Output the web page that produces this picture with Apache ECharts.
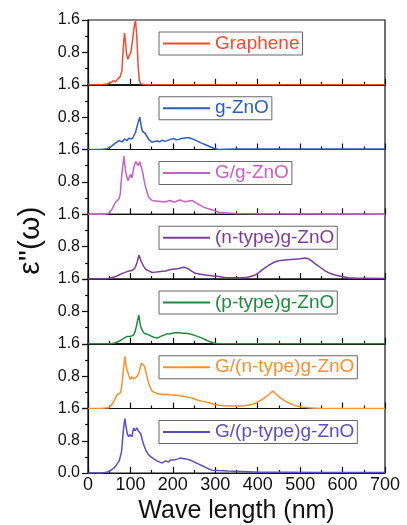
<!DOCTYPE html>
<html>
<head>
<meta charset="utf-8">
<script src="https://cdn.jsdelivr.net/npm/echarts@6/dist/echarts.min.js"></script>
<style>
html,body{margin:0;padding:0;background:#fff;}
#c{width:407px;height:525px;}
</style>
</head>
<body>
<div id="c"></div>
<script>
var seriesNames = ['Graphene', 'g-ZnO', 'G/g-ZnO', '(n-type)g-ZnO', '(p-type)g-ZnO', 'G/(n-type)g-ZnO', 'G/(p-type)g-ZnO'];
var seriesColors = ['#ef4a2e', '#2b5dbf', '#c462c2', '#7b3c9c', '#1f8a3e', '#f7902e', '#5a4ec6'];
var yTicks = [0, 0.8, 1.6];
var xTicks = [0, 100, 200, 300, 400, 500, 600, 700];

var graphene = [[0,0],[30,0],[45,0.02],[55,0.06],[60,0.1],[65,0.07],[70,0.14],[73,0.1],[76,0.2],[80,0.35],[83,0.9],[86,1.28],[88,1.1],[91,0.75],[94,0.63],[97,0.72],[101,0.8],[105,1.1],[109,1.45],[112,1.58],[115,1.2],[118,0.5],[121,0.1],[125,0.02],[135,0],[700,0]];
var gZnO = [[0,0],[30,0],[45,0.02],[53,0.06],[60,0.12],[66,0.17],[70,0.14],[73,0.22],[77,0.25],[81,0.19],[86,0.26],[92,0.22],[96,0.28],[100,0.3],[104,0.26],[108,0.34],[112,0.42],[116,0.59],[122,0.8],[125,0.6],[128,0.46],[132,0.42],[136,0.38],[143,0.25],[151,0.18],[157,0.2],[163,0.21],[169,0.19],[175,0.23],[181,0.2],[187,0.22],[194,0.25],[198,0.23],[202,0.27],[208,0.24],[214,0.25],[220,0.27],[226,0.28],[232,0.29],[238,0.29],[249,0.25],[265,0.17],[281,0.1],[296,0.03],[308,0.0],[350,0.01],[700,0.01]];
var ggZnO = [[0,0],[40,0],[49,0.02],[57,0.13],[61,0.22],[65,0.3],[69,0.27],[73,0.38],[76,0.5],[79,0.9],[82,1.2],[85,1.44],[87,1.2],[89,1.03],[91,0.95],[94,0.83],[97,0.9],[100,0.99],[104,0.9],[107,1.1],[110,1.24],[113,1.3],[116,1.34],[118,1.2],[120,1.24],[122,1.3],[124,1.28],[126,1.15],[129,1.03],[132,0.85],[136,0.66],[143,0.42],[151,0.34],[159,0.33],[167,0.32],[175,0.31],[183,0.3],[188,0.33],[194,0.34],[200,0.31],[206,0.3],[212,0.34],[218,0.35],[224,0.32],[230,0.31],[238,0.33],[245,0.34],[257,0.27],[273,0.17],[292,0.11],[308,0.05],[347,0.02],[402,0.01],[700,0.0]];
var nZnO = [[0,0],[42,0],[55,0.03],[65,0.06],[73,0.1],[81,0.14],[89,0.17],[97,0.2],[103,0.21],[108,0.24],[112,0.3],[116,0.42],[120,0.59],[123,0.55],[126,0.42],[131,0.32],[136,0.24],[143,0.2],[151,0.16],[159,0.17],[167,0.18],[175,0.19],[183,0.2],[190,0.22],[198,0.24],[206,0.25],[214,0.26],[220,0.28],[226,0.29],[232,0.27],[238,0.24],[245,0.19],[253,0.14],[265,0.12],[277,0.1],[292,0.08],[308,0.06],[323,0.04],[339,0.03],[355,0.03],[371,0.03],[383,0.06],[394,0.1],[402,0.15],[410,0.22],[418,0.28],[426,0.34],[436,0.4],[445,0.44],[455,0.46],[465,0.47],[477,0.48],[488,0.49],[500,0.5],[512,0.52],[520,0.5],[528,0.44],[535,0.38],[547,0.29],[559,0.2],[570,0.14],[582,0.1],[598,0.06],[614,0.03],[633,0.02],[653,0.02],[700,0.01]];
var pZnO = [[0,0],[53,0],[63,0.02],[73,0.06],[79,0.1],[85,0.14],[92,0.18],[100,0.18],[104,0.2],[108,0.22],[111,0.3],[114,0.43],[117,0.58],[120,0.71],[122,0.55],[124,0.43],[128,0.33],[132,0.26],[138,0.24],[143,0.22],[149,0.19],[155,0.16],[163,0.14],[169,0.17],[175,0.2],[181,0.22],[187,0.25],[192,0.24],[198,0.26],[204,0.27],[210,0.28],[216,0.27],[222,0.26],[230,0.26],[238,0.25],[245,0.23],[253,0.2],[261,0.17],[269,0.14],[277,0.1],[285,0.06],[296,0.02],[305,0],[700,0]];
var gnZnO = [[0,0],[26,0],[40,0.01],[49,0.02],[55,0.08],[61,0.18],[65,0.27],[69,0.34],[73,0.36],[77,0.39],[80,0.6],[82,0.8],[85,1.1],[87,1.29],[89,1.1],[92,0.96],[96,0.82],[100,0.72],[103,0.78],[106,0.8],[109,0.73],[112,0.75],[116,0.8],[120,0.88],[123,1.0],[126,1.12],[130,1.16],[133,1.05],[136,0.92],[140,0.75],[143,0.63],[147,0.52],[151,0.43],[157,0.4],[163,0.37],[171,0.35],[179,0.34],[187,0.35],[194,0.34],[202,0.33],[210,0.33],[218,0.31],[226,0.3],[235,0.28],[245,0.26],[253,0.23],[261,0.2],[273,0.17],[285,0.14],[296,0.11],[308,0.08],[320,0.07],[332,0.06],[347,0.06],[363,0.06],[375,0.08],[387,0.1],[398,0.15],[410,0.22],[418,0.28],[426,0.34],[431,0.39],[436,0.43],[442,0.37],[449,0.3],[457,0.24],[465,0.18],[477,0.12],[488,0.07],[504,0.04],[520,0.02],[543,0],[700,0]];
var gpZnO = [[0,0],[30,0],[40,0.01],[49,0.04],[55,0.08],[61,0.12],[67,0.2],[73,0.29],[76,0.4],[79,0.53],[81,0.75],[83,1.02],[85,1.2],[87,1.35],[89,1.2],[91,1.07],[93,0.95],[96,0.9],[98,0.95],[100,0.94],[102,0.92],[104,0.9],[106,1.05],[108,1.12],[110,1.05],[112,1.02],[114,1.08],[116,1.12],[118,1.05],[120,1.07],[122,1.03],[124,0.98],[126,0.9],[129,0.78],[132,0.68],[136,0.57],[141,0.48],[147,0.41],[155,0.35],[163,0.3],[169,0.27],[175,0.25],[179,0.28],[183,0.3],[187,0.26],[190,0.27],[194,0.32],[198,0.35],[202,0.32],[206,0.33],[212,0.35],[218,0.37],[224,0.36],[230,0.35],[238,0.33],[245,0.3],[253,0.26],[261,0.22],[269,0.18],[277,0.14],[285,0.1],[292,0.07],[308,0.06],[330,0.05],[363,0.04],[402,0.02],[465,0.02],[550,0.01],[700,0.01]];

var allData = [graphene, gZnO, ggZnO, nZnO, pZnO, gnZnO, gpZnO];

(function () {
  var plotLeft = 88, plotWidth = 297, plotTop = 20, panelH = 64.75;
  var font = 'Liberation Sans, Arial, sans-serif';
  var ink = '#111';
  var grids = [], xAxes = [], yAxes = [], series = [], legends = [];
  for (var i = 0; i < 7; i++) {
    var last = (i === 6);
    var panelTop = plotTop + i * panelH;
    grids.push({left: plotLeft, width: plotWidth, top: panelTop, height: panelH, show: true, borderColor: ink, borderWidth: 1.2});
    xAxes.push({
      type: 'value', gridIndex: i, min: xTicks[0], max: xTicks[xTicks.length - 1], interval: 100,
      axisLine: {show: true, onZero: false, lineStyle: {color: ink, width: 1.2}},
      axisTick: {show: true, inside: true, length: 6, lineStyle: {color: ink, width: 1.2}},
      minorTick: {show: true, splitNumber: 2, length: 3, lineStyle: {color: ink, width: 1.2}},
      splitLine: {show: false},
      axisLabel: {show: last, fontSize: 18, color: ink, fontFamily: font, margin: 3},
      name: last ? 'Wave length (nm)' : '',
      nameLocation: 'middle', nameGap: 26,
      nameTextStyle: {fontSize: 25, color: ink, fontFamily: font}
    });
    yAxes.push({
      type: 'value', gridIndex: i, min: yTicks[0], max: yTicks[yTicks.length - 1], interval: 0.8,
      axisLine: {show: true, lineStyle: {color: ink, width: 1.2}},
      axisTick: {show: true, inside: false, length: 6, lineStyle: {color: ink, width: 1.2}},
      minorTick: {show: true, splitNumber: 2, length: 3, lineStyle: {color: ink, width: 1.2}},
      splitLine: {show: false},
      axisLabel: {show: true, showMinLabel: last, fontSize: 16, color: ink, fontFamily: font, margin: 8,
        formatter: function (v) { return v.toFixed(1); }},
      name: i === 3 ? "ε''(ω)" : '',
      nameLocation: 'middle', nameGap: 42, nameRotate: 90,
      nameTextStyle: {fontSize: 30, color: ink, fontFamily: font, padding: [0, 0, 0, 12]}
    });
    series.push({
      name: seriesNames[i], type: 'line', xAxisIndex: i, yAxisIndex: i,
      data: allData[i], symbol: 'none',
      lineStyle: {color: seriesColors[i], width: 1.5}, itemStyle: {color: seriesColors[i]}
    });
    legends.push({
      data: [seriesNames[i]], left: 159, top: panelTop + 12,
      icon: 'rect', itemWidth: 47, itemHeight: 2, itemGap: 6,
      borderColor: '#666', borderWidth: 1, padding: [2, 3, 2, 4],
      selectedMode: false,
      textStyle: {color: seriesColors[i], fontSize: 19, fontFamily: font}
    });
  }
  var chart = echarts.init(document.getElementById('c'));
  chart.setOption({
    backgroundColor: '#ffffff',
    animation: false,
    grid: grids, xAxis: xAxes, yAxis: yAxes, series: series, legend: legends
  });
})();
</script>
</body>
</html>
